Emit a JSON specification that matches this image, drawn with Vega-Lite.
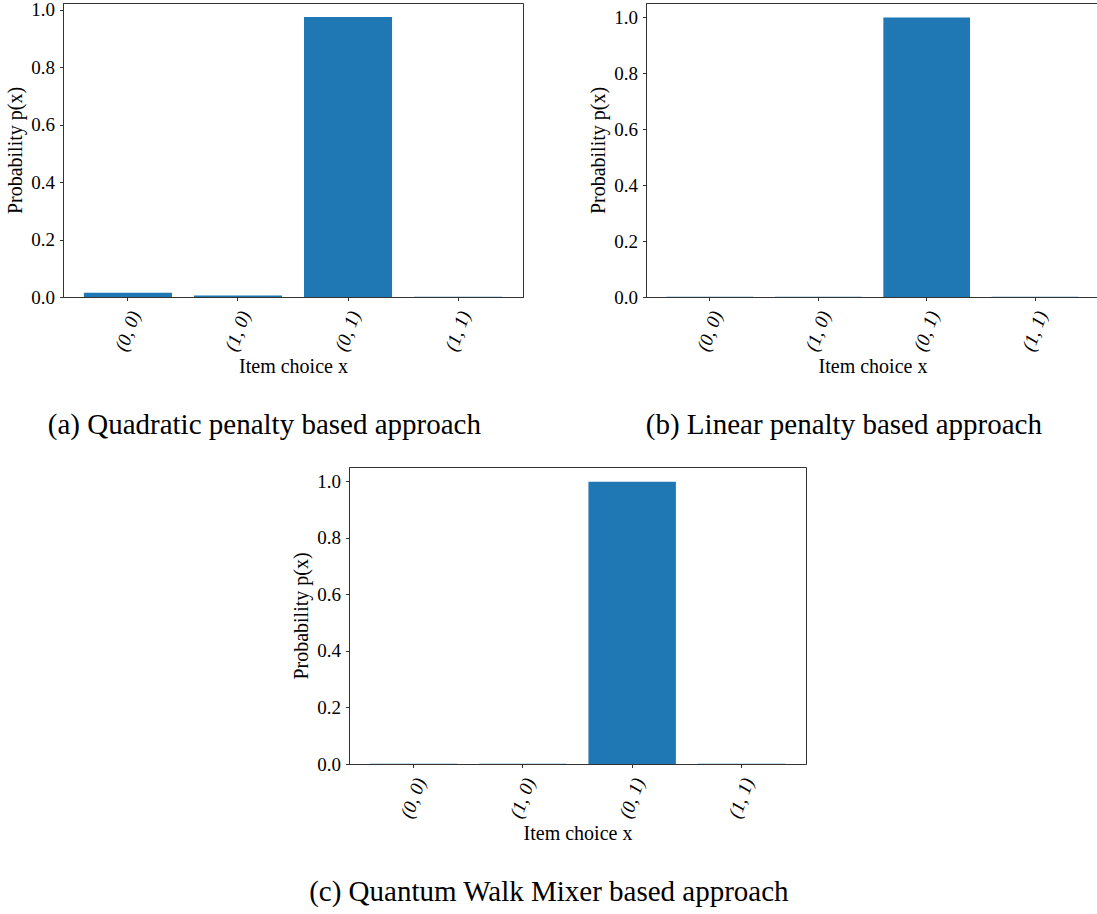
{
  "$schema": "https://vega.github.io/schema/vega-lite/v6.json",
  "padding": {"left": 5, "top": 0, "right": 0, "bottom": 5},
  "background": "white",
  "data": {
    "values": [
      {"panel": "a", "x": "(0, 0)", "p": 0.015},
      {"panel": "a", "x": "(1, 0)", "p": 0.005},
      {"panel": "a", "x": "(0, 1)", "p": 0.975},
      {"panel": "a", "x": "(1, 1)", "p": 0.001},
      {"panel": "b", "x": "(0, 0)", "p": 0.001},
      {"panel": "b", "x": "(1, 0)", "p": 0.001},
      {"panel": "b", "x": "(0, 1)", "p": 0.998},
      {"panel": "b", "x": "(1, 1)", "p": 0.001},
      {"panel": "c", "x": "(0, 0)", "p": 0.001},
      {"panel": "c", "x": "(1, 0)", "p": 0.001},
      {"panel": "c", "x": "(0, 1)", "p": 0.998},
      {"panel": "c", "x": "(1, 1)", "p": 0.001}
    ]
  },
  "config": {
    "font": "Liberation Serif",
    "view": {"stroke": "#333", "strokeWidth": 1},
    "axis": {
      "labelFont": "Liberation Serif",
      "titleFont": "Liberation Serif",
      "labelColor": "#000",
      "titleColor": "#000",
      "labelFontSize": 19,
      "titleFontSize": 20,
      "titleFontWeight": "normal",
      "domainColor": "#333",
      "tickColor": "#333",
      "tickSize": 3.5,
      "grid": false
    },
    "title": {"font": "Liberation Serif", "fontSize": 29, "fontWeight": "normal", "color": "#000"}
  },
  "vconcat": [
    {
      "hconcat": [
        {
          "width": 460,
          "height": 294,
          "transform": [{"filter": "datum.panel === 'a'"}],
          "title": {"text": "(a) Quadratic penalty based approach", "orient": "bottom", "anchor": "middle", "frame": "bounds", "offset": 34},
          "mark": {"type": "bar", "color": "#1f77b4"},
          "encoding": {
            "x": {"field": "x", "type": "nominal", "sort": ["(0, 0)", "(1, 0)", "(0, 1)", "(1, 1)"],
                  "scale": {"paddingInner": 0.2, "paddingOuter": 0.19},
                  "axis": {"title": "Item choice x", "labelAngle": -70, "labelAlign": "center", "labelBaseline": "middle", "labelPadding": 30, "labelFontStyle": "italic", "titlePadding": 3.5}},
            "y": {"field": "p", "type": "quantitative", "scale": {"domain": [0, 1.024], "nice": false},
                  "axis": {"title": "Probability p(x)", "values": [0, 0.2, 0.4, 0.6, 0.8, 1.0], "format": ".1f", "labelPadding": 5, "titlePadding": 5}}
          }
        },
        {
          "width": 453,
          "height": 294,
          "transform": [{"filter": "datum.panel === 'b'"}],
          "title": {"text": "(b) Linear penalty based approach", "orient": "bottom", "anchor": "middle", "frame": "bounds", "offset": 34},
          "mark": {"type": "bar", "color": "#1f77b4"},
          "encoding": {
            "x": {"field": "x", "type": "nominal", "sort": ["(0, 0)", "(1, 0)", "(0, 1)", "(1, 1)"],
                  "scale": {"paddingInner": 0.2, "paddingOuter": 0.19},
                  "axis": {"title": "Item choice x", "labelAngle": -70, "labelAlign": "center", "labelBaseline": "middle", "labelPadding": 30, "labelFontStyle": "italic", "titlePadding": 3.5}},
            "y": {"field": "p", "type": "quantitative", "scale": {"domain": [0, 1.05], "nice": false},
                  "axis": {"title": "Probability p(x)", "values": [0, 0.2, 0.4, 0.6, 0.8, 1.0], "format": ".1f", "labelPadding": 5, "titlePadding": 5}}
          }
        }
      ],
      "spacing": 64
    },
    {
      "hconcat": [
        {
          "width": 228,
          "height": 10,
          "data": {"values": []},
          "mark": {"type": "point", "opacity": 0},
          "encoding": {},
          "view": {"stroke": null}
        },
        {
          "width": 457,
          "height": 297,
          "transform": [{"filter": "datum.panel === 'c'"}],
          "title": {"text": "(c) Quantum Walk Mixer based approach", "orient": "bottom", "anchor": "middle", "frame": "bounds", "offset": 34},
          "mark": {"type": "bar", "color": "#1f77b4"},
          "encoding": {
            "x": {"field": "x", "type": "nominal", "sort": ["(0, 0)", "(1, 0)", "(0, 1)", "(1, 1)"],
                  "scale": {"paddingInner": 0.2, "paddingOuter": 0.19},
                  "axis": {"title": "Item choice x", "labelAngle": -70, "labelAlign": "center", "labelBaseline": "middle", "labelPadding": 30, "labelFontStyle": "italic", "titlePadding": 3.5}},
            "y": {"field": "p", "type": "quantitative", "scale": {"domain": [0, 1.05], "nice": false},
                  "axis": {"title": "Probability p(x)", "values": [0, 0.2, 0.4, 0.6, 0.8, 1.0], "format": ".1f", "labelPadding": 5, "titlePadding": 5}}
          }
        }
      ],
      "spacing": 0
    }
  ],
  "spacing": 25
}
